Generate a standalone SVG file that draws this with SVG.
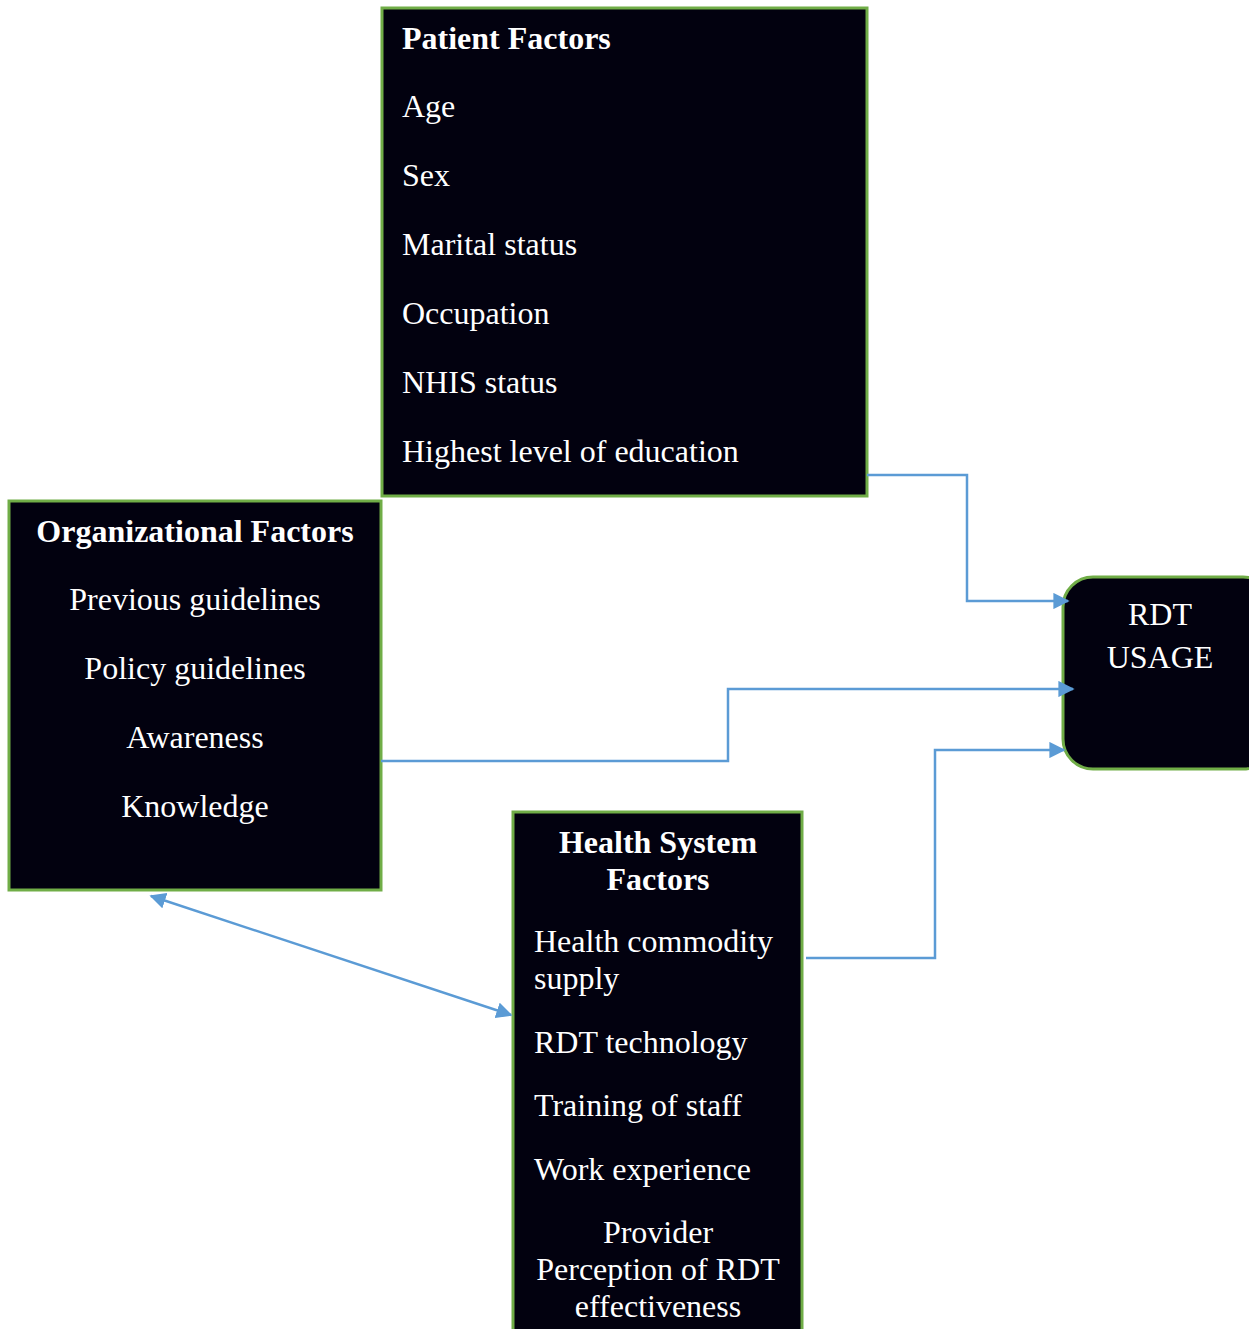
<svg xmlns="http://www.w3.org/2000/svg" width="1249" height="1329" viewBox="0 0 1249 1329">
<style>
.box{fill:#02010f;stroke:#70ad47;stroke-width:3}
.t{font-family:"Liberation Serif","Times New Roman",serif;font-size:32px;fill:#ffffff}
.b{font-weight:bold}
.c{text-anchor:middle}
.conn{fill:none;stroke:#5b9bd5;stroke-width:2.5}
</style>
<defs>
<marker id="ah" viewBox="0 0 10 10" refX="9" refY="5" markerWidth="6.5" markerHeight="6.5" orient="auto-start-reverse" markerUnits="strokeWidth">
<path d="M0,0 L10,5 L0,10 z" fill="#5b9bd5"/>
</marker>
</defs>
<rect width="1249" height="1329" fill="#ffffff"/>
<g id="patient">
<rect class="box" x="382" y="8" width="485" height="488"/>
<text class="t b" x="402" y="49">Patient Factors</text>
<text class="t" x="402" y="117">Age</text>
<text class="t" x="402" y="186">Sex</text>
<text class="t" x="402" y="255">Marital status</text>
<text class="t" x="402" y="324">Occupation</text>
<text class="t" x="402" y="393">NHIS status</text>
<text class="t" x="402" y="462">Highest level of education</text>
</g>
<g id="organizational">
<rect class="box" x="9" y="501" width="372" height="389"/>
<text class="t b c" x="195" y="542">Organizational Factors</text>
<text class="t c" x="195" y="610">Previous guidelines</text>
<text class="t c" x="195" y="679">Policy guidelines</text>
<text class="t c" x="195" y="748">Awareness</text>
<text class="t c" x="195" y="817">Knowledge</text>
</g>
<g id="healthsystem">
<rect class="box" x="513" y="812" width="289" height="530"/>
<text class="t b c" x="658" y="853">Health System</text>
<text class="t b c" x="658" y="890">Factors</text>
<text class="t" x="534" y="952">Health commodity</text>
<text class="t" x="534" y="989">supply</text>
<text class="t" x="534" y="1053">RDT technology</text>
<text class="t" x="534" y="1116">Training of staff</text>
<text class="t" x="534" y="1180">Work experience</text>
<text class="t c" x="658" y="1243">Provider</text>
<text class="t c" x="658" y="1280">Perception of RDT</text>
<text class="t c" x="658" y="1317">effectiveness</text>
</g>
<g id="rdt">
<rect class="box" x="1063" y="577" width="210" height="192" rx="30" ry="30"/>
<text class="t c" x="1160" y="625">RDT</text>
<text class="t c" x="1160" y="668">USAGE</text>
</g>
<g id="connectors">
<polyline class="conn" points="867,475 967,475 967,601 1068,601" marker-end="url(#ah)"/>
<polyline class="conn" points="381,761 728,761 728,689 1073,689" marker-end="url(#ah)"/>
<polyline class="conn" points="806,958 935,958 935,750 1064,750" marker-end="url(#ah)"/>
<line class="conn" x1="151" y1="896" x2="511" y2="1015" marker-start="url(#ah)" marker-end="url(#ah)"/>
</g>
</svg>
